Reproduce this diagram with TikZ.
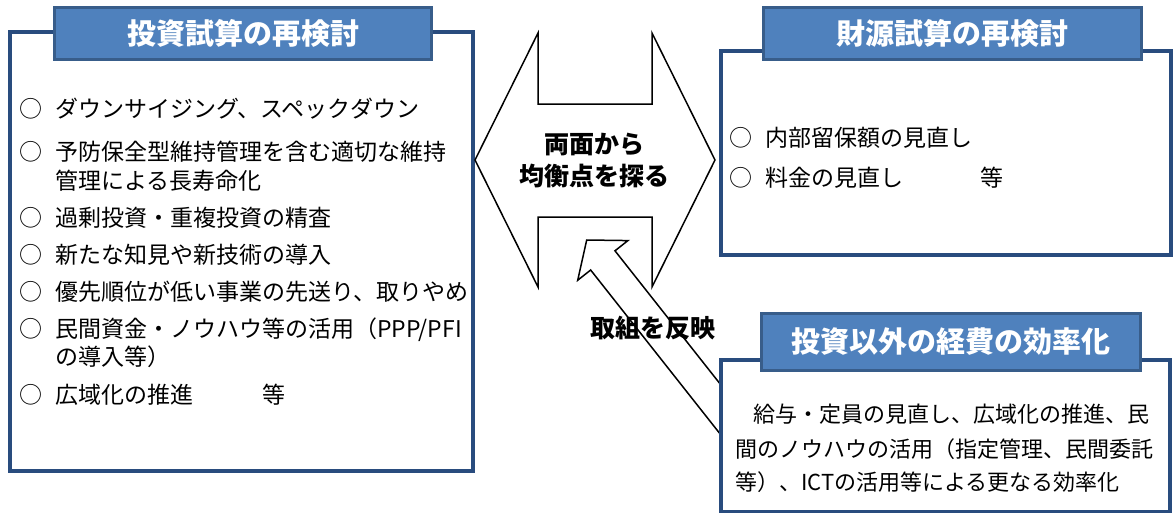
\documentclass[tikz,border=0pt]{standalone}
\usepackage{fontspec}
\setmainfont{Noto Sans CJK JP}
\usetikzlibrary{calc,positioning}
\definecolor{bleucadre}{RGB}{41,76,126}
\definecolor{bleuonglet}{RGB}{79,129,189}
\definecolor{bordonglet}{RGB}{56,93,138}
\newcommand{\maru}{\makebox[35.5pt][l]{○}}

\begin{document}
\begin{tikzpicture}[x=1pt,y=-1pt]
    %
    % Styles
    %
    \tikzset{cadre/.style={draw=bleucadre, line width=4pt, fill=white, inner sep=0pt}};%
    \tikzset{onglet/.style={draw=bordonglet, line width=3pt, fill=bleuonglet, text=white, inner sep=0pt, font=\fontsize{29}{32}\selectfont\bfseries}};%
    \tikzset{ligne/.style={anchor=base west, inner sep=0pt, font=\fontsize{23}{28}\selectfont}};%
    \tikzset{lignep/.style={anchor=base west, inner sep=0pt, font=\fontsize{22}{26}\selectfont}};%
    \tikzset{gras/.style={anchor=base, inner sep=0pt, font=\fontsize{25}{30}\selectfont\bfseries}};%
    \tikzset{fleche/.style={draw=black, line width=1.5pt, line join=miter}};%

    \path[use as bounding box, fill=white] (0,0) rectangle (1174,512);

    %
    % Investissement
    %
    \node[cadre, minimum width=463pt, minimum height=439pt] (inv) at (241.5,251.5) {};%
    \node[onglet, minimum width=377pt, minimum height=52pt] (titinv) at (243,33.5) {投資試算の再検討};%
    \node[ligne] (inva) at (19.5,117.7) {\maru ダウンサイジング、スペックダウン};%
    \node[ligne] (invb) at (19.5,160.7) {\maru 予防保全型維持管理を含む適切な維持};%
    \node[ligne] (invc) at (55,189.7) {管理による長寿命化};%
    \node[ligne] (invd) at (19.5,226.2) {\maru 過剰投資・重複投資の精査};%
    \node[ligne] (inve) at (19.5,263.2) {\maru 新たな知見や新技術の導入};%
    \node[ligne] (invf) at (19.5,300.7) {\maru 優先順位が低い事業の先送り、取りやめ};%
    \node[ligne] (invg) at (19.5,337.7) {\maru 民間資金・ノウハウ等の活用（PPP/PFI};%
    \node[ligne] (invh) at (55,365.7) {の導入等）};%
    \node[ligne] (invi) at (19.5,403.7) {\maru 広域化の推進　　　等};%

    %
    % Financement
    %
    \node[cadre, minimum width=450pt, minimum height=204pt] (fin) at (946,153) {};%
    \node[onglet, minimum width=378pt, minimum height=52pt] (titfin) at (952.5,33.5) {財源試算の再検討};%
    \node[ligne] (fina) at (729.5,146.2) {\maru 内部留保額の見直し};%
    \node[ligne] (finb) at (729.5,186.2) {\maru 料金の見直し　　　\hspace{8pt}等};%

    %
    % Double fleche centrale
    %
    \coordinate (dg) at (475,160);%
    \coordinate (dhg) at (538,33);%
    \coordinate (dng) at (538,104);%
    \coordinate (dnd) at (652,104);%
    \coordinate (dhd) at (652,33);%
    \coordinate (dd) at (715,160);%
    \coordinate (dbd) at (652,287);%
    \coordinate (dsd) at (652,217);%
    \coordinate (dsg) at (538,217);%
    \coordinate (dbg) at (538,287);%
    \draw[fleche, fill=white] (dg) -- (dhg) -- (dng) -- (dnd) -- (dhd) -- (dd)%
    -- (dbd) -- (dsd) -- (dsg) -- (dbg) -- cycle;%
    \node[gras] (milieua) at (594,153.5) {両面から};%
    \node[gras] (milieub) at (594,185) {均衡点を探る};%

    %
    % Fleche creuse
    %
    \node[gras] (reflet) at (653,337) {取組を反映};%
    \begin{scope}[shift={(586.7,240)}, rotate=-51.7]
        \coordinate (pointe) at (0,0);%
        \coordinate (queue) at (270,0);%
        \draw[fleche] (pointe) -- (26,32) -- (26,15.5) -- ($(queue)+(0,15.5)$)%
        -- ($(queue)+(0,-15.5)$) -- (26,-15.5) -- (26,-32) -- cycle;%
    \end{scope}

    %
    % Efficacite
    %
    \node[cadre, minimum width=449pt, minimum height=152pt] (eff) at (945.5,436) {};%
    \node[onglet, minimum width=379pt, minimum height=57pt] (titeff) at (951,342) {投資以外の経費の効率化};%
    \node[lignep] (effa) at (753,422.2) {給与・定員の見直し、広域化の推進、民};%
    \node[lignep] (effb) at (735,457.4) {間のノウハウの活用（指定管理、民間委託};%
    \node[lignep] (effc) at (735,490.9) {等）、ICTの活用等による更なる効率化};%

\end{tikzpicture}
\end{document}
